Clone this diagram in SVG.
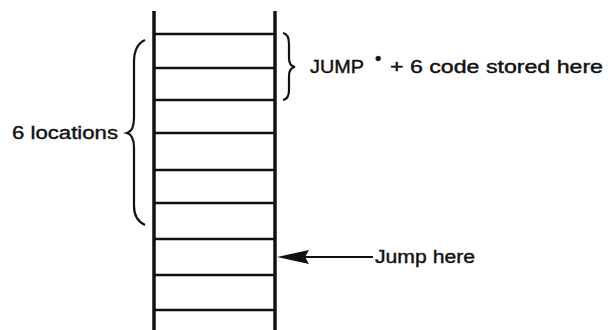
<svg xmlns="http://www.w3.org/2000/svg" width="608" height="330" viewBox="0 0 608 330">
<style>
.rail{stroke:#111;stroke-width:3.5;fill:none}
.rung{stroke:#111;stroke-width:2.5}
.brace{stroke:#111;stroke-width:2.2;fill:none}
.lbl{font-family:"Liberation Sans",Arial,sans-serif;font-size:18px;fill:#111;stroke:#111;stroke-width:0.4}
</style>
<g id="memory">
<line class="rail" x1="154" y1="11" x2="154" y2="330"/>
<line class="rail" x1="275" y1="11" x2="275" y2="330"/>
<line class="rung" x1="154" y1="34" x2="275" y2="34"/>
<line class="rung" x1="154" y1="68" x2="275" y2="68"/>
<line class="rung" x1="154" y1="100" x2="275" y2="100"/>
<line class="rung" x1="154" y1="133" x2="275" y2="133"/>
<line class="rung" x1="154" y1="170" x2="275" y2="170"/>
<line class="rung" x1="154" y1="203" x2="275" y2="203"/>
<line class="rung" x1="154" y1="239" x2="275" y2="239"/>
<line class="rung" x1="154" y1="275" x2="275" y2="275"/>
<line class="rung" x1="154" y1="310" x2="275" y2="310"/>
</g>
<g id="jump-code">
<path class="brace" d="M283,33 Q289,34 289,44 L289,58 Q289,66 295,67 Q289,68 289,76 L289,90 Q289,99 283,100"/>
<text class="lbl" x="310" y="73" textLength="54" lengthAdjust="spacingAndGlyphs">JUMP</text>
<text class="lbl" x="375" y="65" font-size="9">•</text>
<text class="lbl" x="390" y="73" textLength="213" lengthAdjust="spacingAndGlyphs">+ 6 code stored here</text>
</g>
<g id="six-locations">
<path class="brace" d="M145,40 Q134,45 134,62 L134,118 Q134,131 127,133 Q134,135 134,148 L134,206 Q134,220 145,225"/>
<text class="lbl" x="12" y="139" textLength="106" lengthAdjust="spacingAndGlyphs">6 locations</text>
</g>
<g id="jump-here">
<text class="lbl" x="375" y="263" textLength="100" lengthAdjust="spacingAndGlyphs">Jump here</text>
</g>
<g id="connectors">
<line x1="373" y1="257" x2="305" y2="257" stroke="#111" stroke-width="2"/>
<path d="M277,257 L309,250 L305,257 L309,264 Z" fill="#111"/>
</g>
</svg>
